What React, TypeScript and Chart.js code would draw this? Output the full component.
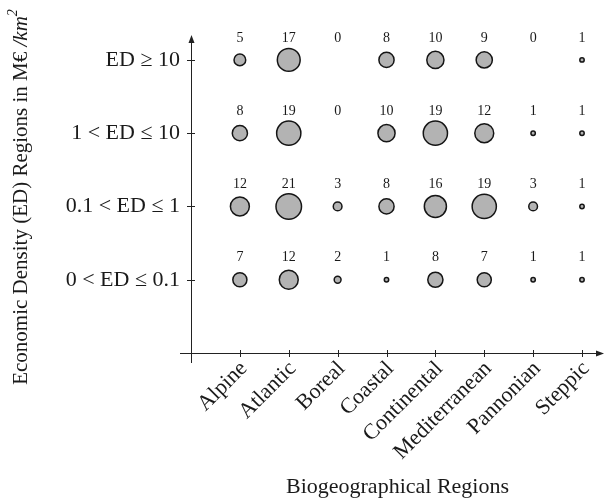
import React, { useEffect, useRef } from "react";
import { Chart, registerables } from "chart.js";

Chart.register(...registerables);

const regions = ["Alpine", "Atlantic", "Boreal", "Coastal", "Continental", "Mediterranean", "Pannonian", "Steppic"];
const edLevels = ["0 < ED ≤ 0.1", "0.1 < ED ≤ 1", "1 < ED ≤ 10", "ED ≥ 10"];
const countsLow = [7, 12, 2, 1, 8, 7, 1, 1];
const countsMid = [12, 21, 3, 8, 16, 19, 3, 1];
const countsHigh = [8, 19, 0, 10, 19, 12, 1, 1];
const countsTop = [5, 17, 0, 8, 10, 9, 0, 1];
const countRows = [countsLow, countsMid, countsHigh, countsTop];

const SERIF = "'Liberation Serif', 'Times New Roman', serif";

function radiusFor(n: number) {
  return 2.95 * Math.sqrt(n) - 0.75;
}

const overlay = {
  id: "overlay",
  afterDraw(chart: any) {
    const ctx = chart.ctx as CanvasRenderingContext2D;
    const xs = chart.scales.x;
    const ys = chart.scales.y;
    const area = chart.chartArea;
    const x0 = xs.getPixelForValue(0);
    const y0 = ys.getPixelForValue(0);
    const xEnd = chart.width;
    ctx.save();
    ctx.strokeStyle = "#222";
    ctx.fillStyle = "#222";
    ctx.lineWidth = 1;
    // y axis
    ctx.beginPath();
    ctx.moveTo(x0 + 0.5, y0 + 10);
    ctx.lineTo(x0 + 0.5, area.top + 4);
    ctx.stroke();
    ctx.beginPath();
    ctx.moveTo(x0 + 0.5, area.top);
    ctx.lineTo(x0 - 2.5, area.top + 8);
    ctx.lineTo(x0 + 3.5, area.top + 8);
    ctx.closePath();
    ctx.fill();
    // x axis
    ctx.beginPath();
    ctx.moveTo(x0 - 11, y0 + 0.5);
    ctx.lineTo(xEnd - 4, y0 + 0.5);
    ctx.stroke();
    ctx.beginPath();
    ctx.moveTo(xEnd, y0 + 0.5);
    ctx.lineTo(xEnd - 8, y0 - 2.5);
    ctx.lineTo(xEnd - 8, y0 + 3.5);
    ctx.closePath();
    ctx.fill();
    // ticks
    ctx.beginPath();
    regions.forEach((_, i) => {
      const px = Math.round(xs.getPixelForValue(i + 1)) + 0.5;
      ctx.moveTo(px, y0 - 3);
      ctx.lineTo(px, y0 + 4);
    });
    edLevels.forEach((_, j) => {
      const py = Math.round(ys.getPixelForValue(j + 1)) + 0.5;
      ctx.moveTo(x0 - 4, py);
      ctx.lineTo(x0 + 4, py);
    });
    ctx.stroke();
    // count labels
    ctx.font = `14px ${SERIF}`;
    ctx.textAlign = "center";
    ctx.textBaseline = "middle";
    ctx.fillStyle = "#1a1a1a";
    countRows.forEach((row, j) => {
      row.forEach((n, i) => {
        const px = xs.getPixelForValue(i + 1);
        const py = ys.getPixelForValue(j + 1);
        ctx.fillText(String(n), px, py - 22);
      });
    });
    // y title with italic unit
    const parts = [
      { t: "Economic Density (ED) Regions in M€ ", f: `21px ${SERIF}`, dy: 0 },
      { t: "/km", f: `italic 21px ${SERIF}`, dy: 0 },
      { t: "2", f: `italic 14px ${SERIF}`, dy: -8 },
    ];
    let total = 0;
    parts.forEach((p) => {
      ctx.font = p.f;
      total += ctx.measureText(p.t).width;
    });
    ctx.translate(21, 197);
    ctx.rotate(-Math.PI / 2);
    ctx.textAlign = "left";
    ctx.textBaseline = "middle";
    ctx.fillStyle = "#1a1a1a";
    let cx = -total / 2;
    parts.forEach((p) => {
      ctx.font = p.f;
      ctx.fillText(p.t, cx, p.dy);
      cx += ctx.measureText(p.t).width;
    });
    ctx.restore();
  },
};

export default function App() {
  const ref = useRef<HTMLCanvasElement | null>(null);
  useEffect(() => {
    if (!ref.current) return;
    const points: any[] = [];
    countRows.forEach((row, j) => {
      row.forEach((n, i) => {
        if (n > 0) points.push({ x: i + 1, y: j + 1, r: radiusFor(n) });
      });
    });
    const chart = new Chart(ref.current, {
      type: "bubble",
      data: {
        datasets: [
          {
            data: points,
            backgroundColor: "#b3b3b3",
            borderColor: "#151515",
            borderWidth: 1.5,
          },
        ],
      },
      options: {
        animation: false,
        responsive: false,
        devicePixelRatio: 1,
        layout: { autoPadding: false, padding: { top: 35, right: 0, bottom: 0, left: 0 } },
        plugins: {
          legend: { display: false },
          tooltip: { enabled: false },
        },
        scales: {
          x: {
            type: "linear",
            min: 0,
            max: 8.45,
            grid: { display: false, drawTicks: false },
            border: { display: false },
            afterBuildTicks: (s: any) => {
              s.ticks = regions.map((_, i) => ({ value: i + 1 }));
            },
            afterFit: (s: any) => {
              s.height = 149;
              s.paddingLeft = 0;
              s.paddingRight = 0;
            },
            ticks: {
              autoSkip: false,
              minRotation: 45,
              maxRotation: 45,
              padding: 3,
              labelOffset: 4,
              color: "#1a1a1a",
              font: { family: SERIF, size: 22 },
              callback: (v: any) => regions[Number(v) - 1] ?? "",
            },
            title: {
              display: true,
              text: "Biogeographical Regions",
              color: "#1a1a1a",
              font: { family: SERIF, size: 22 },
              padding: { top: 0, bottom: 2 },
            },
          },
          y: {
            type: "linear",
            min: 0,
            max: 4.34,
            grid: { display: false, drawTicks: false },
            border: { display: false },
            afterBuildTicks: (s: any) => {
              s.ticks = edLevels.map((_, j) => ({ value: j + 1 }));
            },
            afterFit: (s: any) => {
              s.width = 191;
              s.paddingTop = 0;
              s.paddingBottom = 0;
            },
            ticks: {
              padding: 11,
              color: "#1a1a1a",
              font: { family: SERIF, size: 22 },
              callback: (v: any) => edLevels[Number(v) - 1] ?? "",
            },
          },
        },
      },
      plugins: [overlay],
    });
    return () => chart.destroy();
  }, []);
  return (
    <div style={{ position: "fixed", left: 0, top: 0, width: 604, height: 502, background: "#fff" }}>
      <canvas ref={ref} width={604} height={502} />
    </div>
  );
}
